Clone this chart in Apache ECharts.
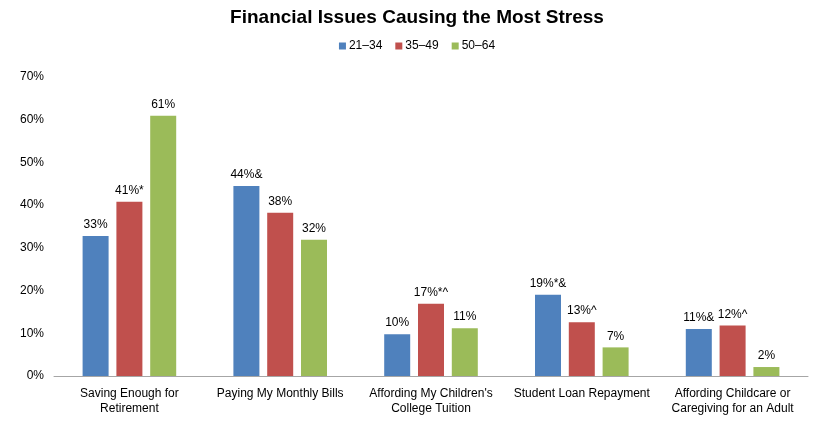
<!DOCTYPE html>
<html><head><meta charset="utf-8">
<script src="https://cdn.jsdelivr.net/npm/echarts@6/dist/echarts.min.js"></script>
<style>html,body{margin:0;padding:0;background:#fff}#c{width:834px;height:423px}</style>
</head><body><div id="c"></div>
<script>
const categories = ["Saving Enough for\nRetirement","Paying My Monthly Bills","Affording My Children's\nCollege Tuition","Student Loan Repayment","Affording Childcare or\nCaregiving for an Adult"];
const seriesNames = ["21\u201334","35\u201349","50\u201364"];
const values2134 = [32.8, 44.5, 9.8, 19.0, 11.0];
const values3549 = [40.8, 38.2, 16.9, 12.6, 11.8];
const values5064 = [60.9, 31.9, 11.2, 6.7, 2.1];
const labels2134 = ["33%","44%&","10%","19%*&","11%&"];
const labels3549 = ["41%*","38%","17%*^","13%^","12%^"];
const labels5064 = ["61%","32%","11%","7%","2%"];
const yTicks = ["0%","10%","20%","30%","40%","50%","60%","70%"];
const colors = ["#4F81BD","#C0504D","#9BBB59"];

const chart = echarts.init(document.getElementById('c'));
const font = "Liberation Sans, Arial, sans-serif";
function mk(i, vals, labs){
  return {
    name: seriesNames[i], type:'bar', data: vals, barWidth: 26, barGap:'30%',
    itemStyle:{color:colors[i]},
    label:{show:true, position:'top', distance:5, color:'#000', fontSize:12, fontFamily:font,
      formatter: p => labs[p.dataIndex]},
    emphasis:{disabled:true}
  };
}
chart.setOption({
  animation:false,
  color: colors,
  title:{text:'Financial Issues Causing the Most Stress', left:'center', top:3,
    textStyle:{fontSize:19, fontWeight:'bold', color:'#000', fontFamily:font}},
  legend:{top:35, left:'center', itemWidth:7, itemHeight:7, itemGap:13, icon:'rect',
    textStyle:{fontSize:12, color:'#000', fontFamily:font, padding:[0,0,0,-2]}},
  grid:{left:54, right:26, top:77, bottom:47, containLabel:false},
  xAxis:{type:'category', data:categories,
    axisLine:{lineStyle:{color:'#A6A6A6', width:1}}, axisTick:{show:false},
    axisLabel:{color:'#000', fontSize:12, fontFamily:font, interval:0, margin:10, lineHeight:15}},
  yAxis:{type:'value', min:0, max:70, interval:10,
    splitLine:{show:false}, axisLine:{show:false}, axisTick:{show:false},
    axisLabel:{color:'#000', fontSize:12, fontFamily:font, margin:10,
      formatter: v => yTicks[Math.round(v/10)]}},
  series:[mk(0,values2134,labels2134), mk(1,values3549,labels3549), mk(2,values5064,labels5064)]
});
</script></body></html>
